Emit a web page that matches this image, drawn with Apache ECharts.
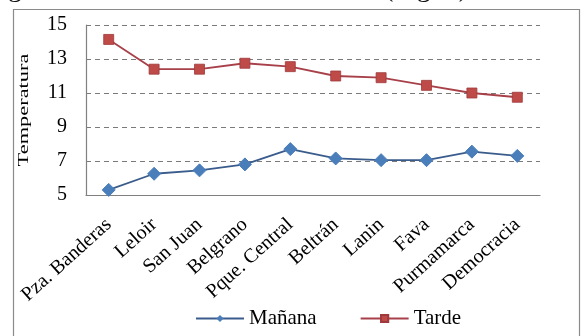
<!DOCTYPE html>
<html>
<head>
<meta charset="utf-8">
<script src="https://cdn.jsdelivr.net/npm/echarts@6/dist/echarts.min.js"></script>
<style>
  html, body { margin: 0; padding: 0; background: #fff; }
  #chart { width: 583px; height: 336px; }
</style>
</head>
<body>
<div id="chart"></div>
<script>
// Stops along the route
const categories = ['Pza. Banderas', 'Leloir', 'San Juan', 'Belgrano', 'Pque. Central',
  'Beltrán', 'Lanin', 'Fava', 'Purmamarca', 'Democracia'];
// Morning temperatures (°C)
const manana = [5.3, 6.25, 6.45, 6.8, 7.7, 7.15, 7.05, 7.05, 7.55, 7.3];
// Afternoon temperatures (°C)
const tarde = [14.15, 12.4, 12.4, 12.75, 12.55, 12.0, 11.9, 11.45, 11.0, 10.75];
// Value axis ticks
const yTicks = [5, 7, 9, 11, 13, 15];

const serif = '"Liberation Serif", "DejaVu Serif", serif';
const chart = echarts.init(document.getElementById('chart'), null, { renderer: 'canvas' });

chart.setOption({
  backgroundColor: '#fff',
  animation: false,
  graphic: [
    // chart area frame
    {
      type: 'rect',
      shape: { x: 13.5, y: 9.5, width: 566, height: 340 },
      style: { fill: 'none', stroke: '#8a8a8a', lineWidth: 1.2 },
      z: 0
    },
    // running text above the figure
    {
      type: 'text',
      x: 8, y: 3,
      style: {
        text: 'gradual hasta el mediodía',
        font: '28px ' + serif, fill: '#111', verticalAlign: 'bottom'
      }
    },
    {
      type: 'text',
      x: 384, y: 3,
      style: { text: '(Fig. 3).', font: '28px ' + serif, fill: '#111', verticalAlign: 'bottom' }
    },
    // value axis title, drawn elongated along its reading direction
    {
      type: 'text',
      x: 24, y: 110,
      rotation: Math.PI / 2,
      scaleX: 1.6,
      style: {
        text: 'Temperatura', font: '14px ' + serif, fill: '#000',
        align: 'center', verticalAlign: 'middle'
      }
    }
  ],
  grid: { left: 86, right: 43, top: 25, bottom: 141, containLabel: false },
  legend: {
    top: 303,
    left: 190,
    itemWidth: 48,
    itemHeight: 9,
    itemGap: 43,
    textStyle: { fontFamily: serif, fontSize: 21, color: '#000' },
    data: ['Mañana', 'Tarde']
  },
  xAxis: {
    type: 'category',
    data: categories,
    boundaryGap: true,
    axisLine: { lineStyle: { color: '#808080', width: 1.2 } },
    axisTick: { show: false },
    axisLabel: {
      rotate: 42,
      margin: 27,
      fontFamily: serif,
      fontSize: 20,
      color: '#000',
      interval: 0
    }
  },
  yAxis: {
    type: 'value',
    min: yTicks[0],
    max: yTicks[yTicks.length - 1],
    interval: 2,
    axisLine: { show: true, lineStyle: { color: '#808080', width: 1.2 } },
    axisTick: { show: false },
    axisLabel: { fontFamily: serif, fontSize: 20, color: '#000', margin: 19 },
    splitLine: { lineStyle: { color: '#7a7a7a', type: [5, 4], width: 1 } }
  },
  series: [
    {
      name: 'Mañana',
      type: 'line',
      data: manana,
      symbol: 'diamond',
      symbolSize: 13,
      lineStyle: { color: '#3a5c8c', width: 1.8 },
      itemStyle: { color: '#4a7ebb', borderColor: '#4a7ebb' },
      z: 3
    },
    {
      name: 'Tarde',
      type: 'line',
      data: tarde,
      symbol: 'rect',
      symbolSize: 10,
      lineStyle: { color: '#a8404a', width: 1.8 },
      itemStyle: { color: '#be4b48', borderColor: '#a0393b', borderWidth: 0.8 },
      z: 3
    }
  ]
});
</script>
</body>
</html>
